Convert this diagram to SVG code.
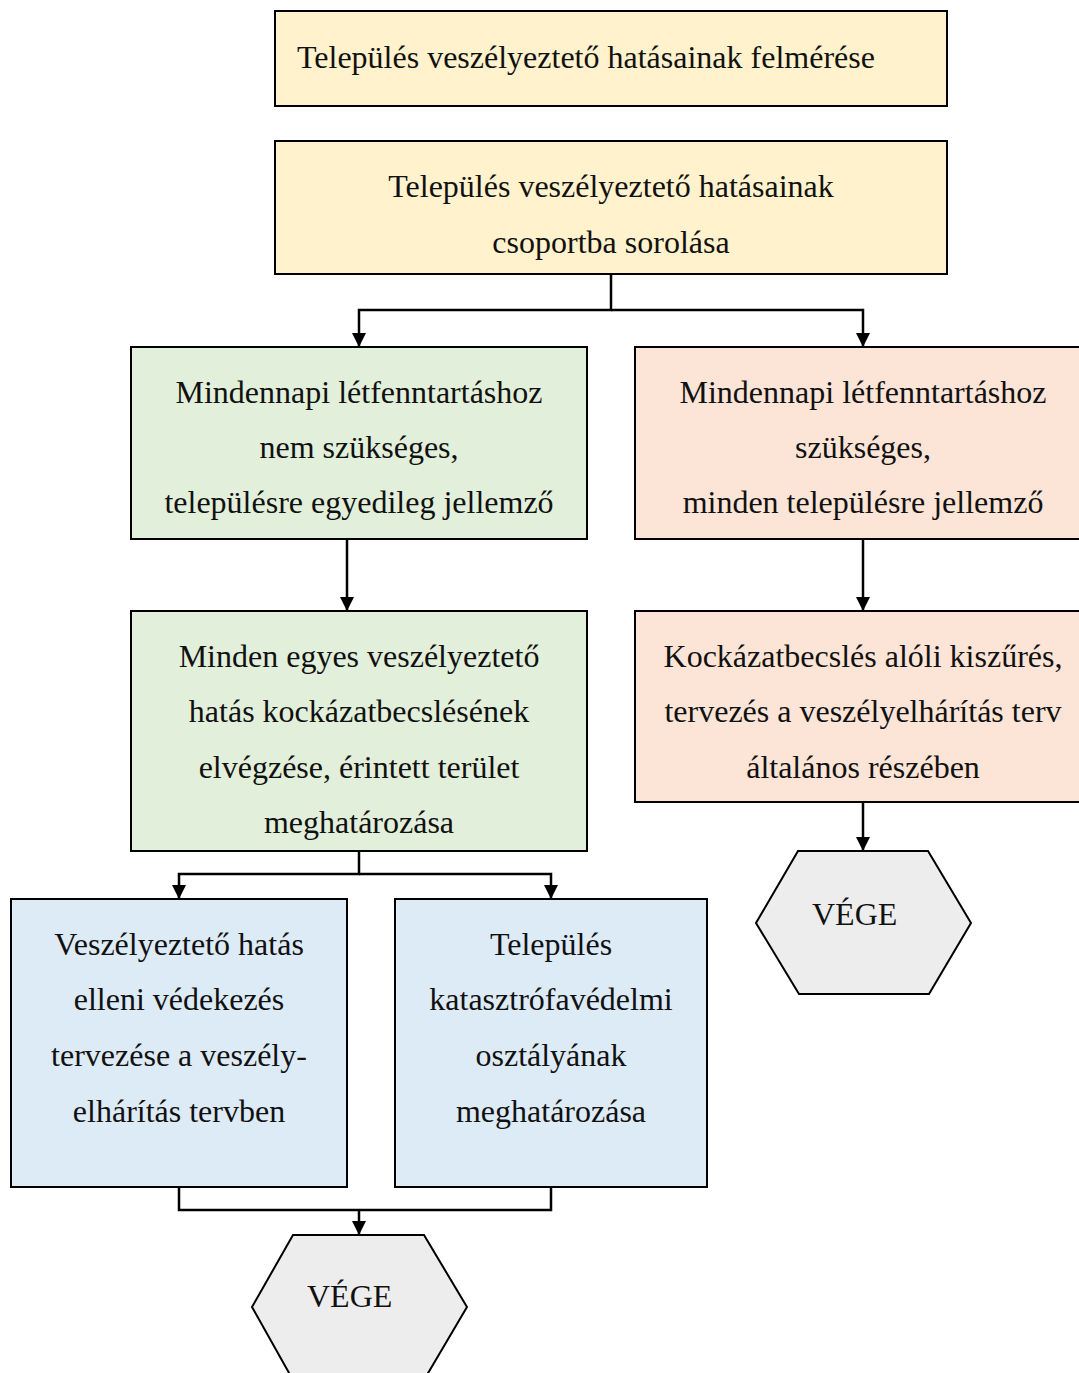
<svg xmlns="http://www.w3.org/2000/svg" width="1079" height="1373" viewBox="0 0 1079 1373">
  <style>
    .box { stroke: #000; stroke-width: 2; }
    .y { fill: #FFF2CC; }
    .g { fill: #E2EFDA; }
    .s { fill: #FCE4D6; }
    .b { fill: #DDEBF7; }
    .h { fill: #EDEDED; stroke: #000; stroke-width: 2; }
    text { font-family: "Liberation Serif", "Times New Roman", serif; font-size: 32px; fill: #111; }
    .c { text-anchor: middle; }
    .line { fill: none; stroke: #000; stroke-width: 2.5; }
  </style>
  <defs>
    <marker id="ah" markerWidth="14" markerHeight="14" refX="14" refY="7" orient="auto" markerUnits="userSpaceOnUse" viewBox="0 0 14 14">
      <path d="M0,0 L14,7 L0,14 Z" fill="#000"/>
    </marker>
  </defs>

  <g id="connectors">
    <path class="line" d="M611,274 V310 H359 V347" marker-end="url(#ah)"/>
    <path class="line" d="M611,310 H863 V347" marker-end="url(#ah)"/>
    <path class="line" d="M347,539 V611" marker-end="url(#ah)"/>
    <path class="line" d="M863,539 V611" marker-end="url(#ah)"/>
    <path class="line" d="M359,851 V874 H179 V899" marker-end="url(#ah)"/>
    <path class="line" d="M359,874 H551 V899" marker-end="url(#ah)"/>
    <path class="line" d="M179,1187 V1210 H551 V1187"/>
    <path class="line" d="M359,1210 V1235" marker-end="url(#ah)"/>
    <path class="line" d="M863,802 V851" marker-end="url(#ah)"/>
  </g>

  <g id="n-felmeres">
    <rect class="box y" x="275" y="11" width="672" height="95"/>
    <text x="297" y="68">Település veszélyeztető hatásainak felmérése</text>
  </g>

  <g id="n-csoport">
    <rect class="box y" x="275" y="141" width="672" height="133"/>
    <text class="c" x="611" y="197">Település veszélyeztető hatásainak</text>
    <text class="c" x="611" y="253">csoportba sorolása</text>
  </g>

  <g id="n-nem-szukseges">
    <rect class="box g" x="131" y="347" width="456" height="192"/>
    <text class="c" x="359" y="403">Mindennapi létfenntartáshoz</text>
    <text class="c" x="359" y="458">nem szükséges,</text>
    <text class="c" x="359" y="513">településre egyedileg jellemző</text>
  </g>

  <g id="n-szukseges">
    <rect class="box s" x="635" y="347" width="460" height="192"/>
    <text class="c" x="863" y="403">Mindennapi létfenntartáshoz</text>
    <text class="c" x="863" y="458">szükséges,</text>
    <text class="c" x="863" y="513">minden településre jellemző</text>
  </g>

  <g id="n-kockazatbecsles">
    <rect class="box g" x="131" y="611" width="456" height="240"/>
    <text class="c" x="359" y="667">Minden egyes veszélyeztető</text>
    <text class="c" x="359" y="722">hatás kockázatbecslésének</text>
    <text class="c" x="359" y="778">elvégzése, érintett terület</text>
    <text class="c" x="359" y="833">meghatározása</text>
  </g>

  <g id="n-kiszures">
    <rect class="box s" x="635" y="611" width="460" height="191"/>
    <text class="c" x="863" y="667">Kockázatbecslés alóli kiszűrés,</text>
    <text class="c" x="863" y="722">tervezés a veszélyelhárítás terv</text>
    <text class="c" x="863" y="778">általános részében</text>
  </g>

  <g id="n-vedekezes">
    <rect class="box b" x="11" y="899" width="336" height="288"/>
    <text class="c" x="179" y="955">Veszélyeztető hatás</text>
    <text class="c" x="179" y="1010">elleni védekezés</text>
    <text class="c" x="179" y="1066">tervezése a veszély-</text>
    <text class="c" x="179" y="1122">elhárítás tervben</text>
  </g>

  <g id="n-osztaly">
    <rect class="box b" x="395" y="899" width="312" height="288"/>
    <text class="c" x="551" y="955">Település</text>
    <text class="c" x="551" y="1010">katasztrófavédelmi</text>
    <text class="c" x="551" y="1066">osztályának</text>
    <text class="c" x="551" y="1122">meghatározása</text>
  </g>

  <g id="n-vege-1">
    <polygon class="h" points="293,1235 424,1235 467,1307 424,1380 293,1380 252,1307"/>
    <text x="307" y="1307">VÉGE</text>
  </g>

  <g id="n-vege-2">
    <polygon class="h" points="798,851 928,851 971,923 929,994 799,994 756,923"/>
    <text x="812" y="925">VÉGE</text>
  </g>
</svg>
